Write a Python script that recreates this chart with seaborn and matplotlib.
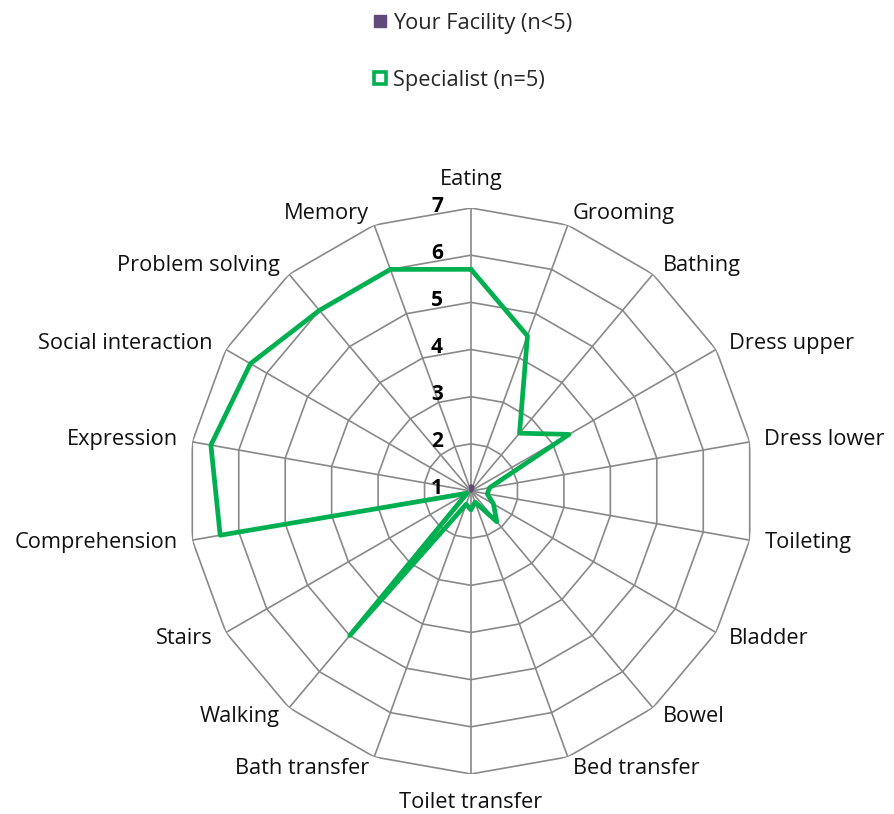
import numpy as np
import pandas as pd
import matplotlib
matplotlib.use("Agg")
import matplotlib.pyplot as plt
from matplotlib.lines import Line2D
from matplotlib.transforms import offset_copy
import seaborn as sns

categories = ['Eating', 'Grooming', 'Bathing', 'Dress upper', 'Dress lower', 'Toileting',
              'Bladder', 'Bowel', 'Bed transfer', 'Toilet transfer', 'Bath transfer', 'Walking',
              'Stairs', 'Comprehension', 'Expression', 'Social interaction', 'Problem solving', 'Memory']
specialist = [5.7, 4.5, 2.6, 3.4, 1.4, 1.35, 1.55, 1.85, 1.25, 1.4, 1.3, 5.0,
              1.1, 6.4, 6.6, 6.4, 6.0, 6.0]
your_facility = [1.1, 1.1, 1.05, 1.0, 1.0, 1.0, 1.0, 1.0, 1.0, 1.0, 1.0, 1.0,
                 1.0, 1.0, 1.0, 1.0, 1.0, 1.0]
ring_ticks = [1, 2, 3, 4, 5, 6, 7]
series_names = ['Your Facility (n<5)', 'Specialist (n=5)']

sns.set_theme(style='white')
plt.rcParams['font.family'] = ['Open Sans', 'DejaVu Sans']

W, H = 895, 814
fig = plt.figure(figsize=(W / 100, H / 100), dpi=100)
cx, cy, R = 471, 491, 283
ax = fig.add_axes([(cx - R) / W, (H - cy - R) / H, 2 * R / W, 2 * R / H], projection='polar')
ax.set_theta_zero_location('N')
ax.set_theta_direction(-1)
ax.set_ylim(1, 7)
ax.grid(False)
ax.set_xticks([])
ax.set_yticks([])
ax.spines['polar'].set_visible(False)
ax.set_facecolor('white')

n = len(categories)
theta = np.arange(n) * 2 * np.pi / n
theta_c = np.append(theta, theta[0])

gc = '#898989'
for rv in ring_ticks[1:]:
    ax.plot(theta_c, [rv] * (n + 1), color=gc, lw=1.2, zorder=1)
for t in theta:
    ax.plot([t, t], [1, 7], color=gc, lw=1.2, zorder=1)

df_f = pd.DataFrame({'theta': theta_c, 'r': your_facility + your_facility[:1]})
df_s = pd.DataFrame({'theta': theta_c, 'r': specialist + specialist[:1]})
sns.lineplot(data=df_f, x='theta', y='r', sort=False, ax=ax, color='#604A7B', lw=2.5,
             estimator=None, zorder=3)
sns.lineplot(data=df_s, x='theta', y='r', sort=False, ax=ax, color='#00B050', lw=3.4,
             estimator=None, zorder=4)
ax.set_xlabel('')
ax.set_ylabel('')
ax.set_ylim(1, 7)

# radial tick labels
for rv in ring_ticks:
    tr = offset_copy(ax.transData, fig=fig, x=-34 * 0.72, y=2 * 0.72, units='points')
    ax.text(0, rv, str(rv), transform=tr, ha='center', va='center', fontsize=15,
            fontweight='bold', color='black', zorder=5)

# category labels
for t, lab in zip(theta, categories):
    s, c = np.sin(t), np.cos(t)
    if abs(s) < 1e-6:
        dx, dy, ha = 0, 28 * np.sign(c), 'center'
    else:
        dx, dy = 15 * s, 12 * c
        ha = 'left' if s > 0 else 'right'
    tr = offset_copy(ax.transData, fig=fig, x=dx * 0.72, y=dy * 0.72, units='points')
    ax.text(t, 7, lab, transform=tr, ha=ha, va='center', fontsize=15.7, color='#111111',
            clip_on=False)

handles = [
    Line2D([], [], linestyle='none', marker='s', markersize=9, markerfacecolor='#604A7B',
           markeredgecolor='#604A7B'),
    Line2D([], [], linestyle='none', marker='s', markersize=9, markerfacecolor='white',
           markeredgecolor='#00B050', markeredgewidth=2.6),
]
fig.legend(handles, series_names, loc='upper center', bbox_to_anchor=(472 / W, 1 - 4 / H),
           frameon=False, fontsize=15.7, labelspacing=1.65, handlelength=0.8,
           handletextpad=0.2, borderaxespad=0)

fig.savefig('out.png', dpi=100, facecolor='white')
